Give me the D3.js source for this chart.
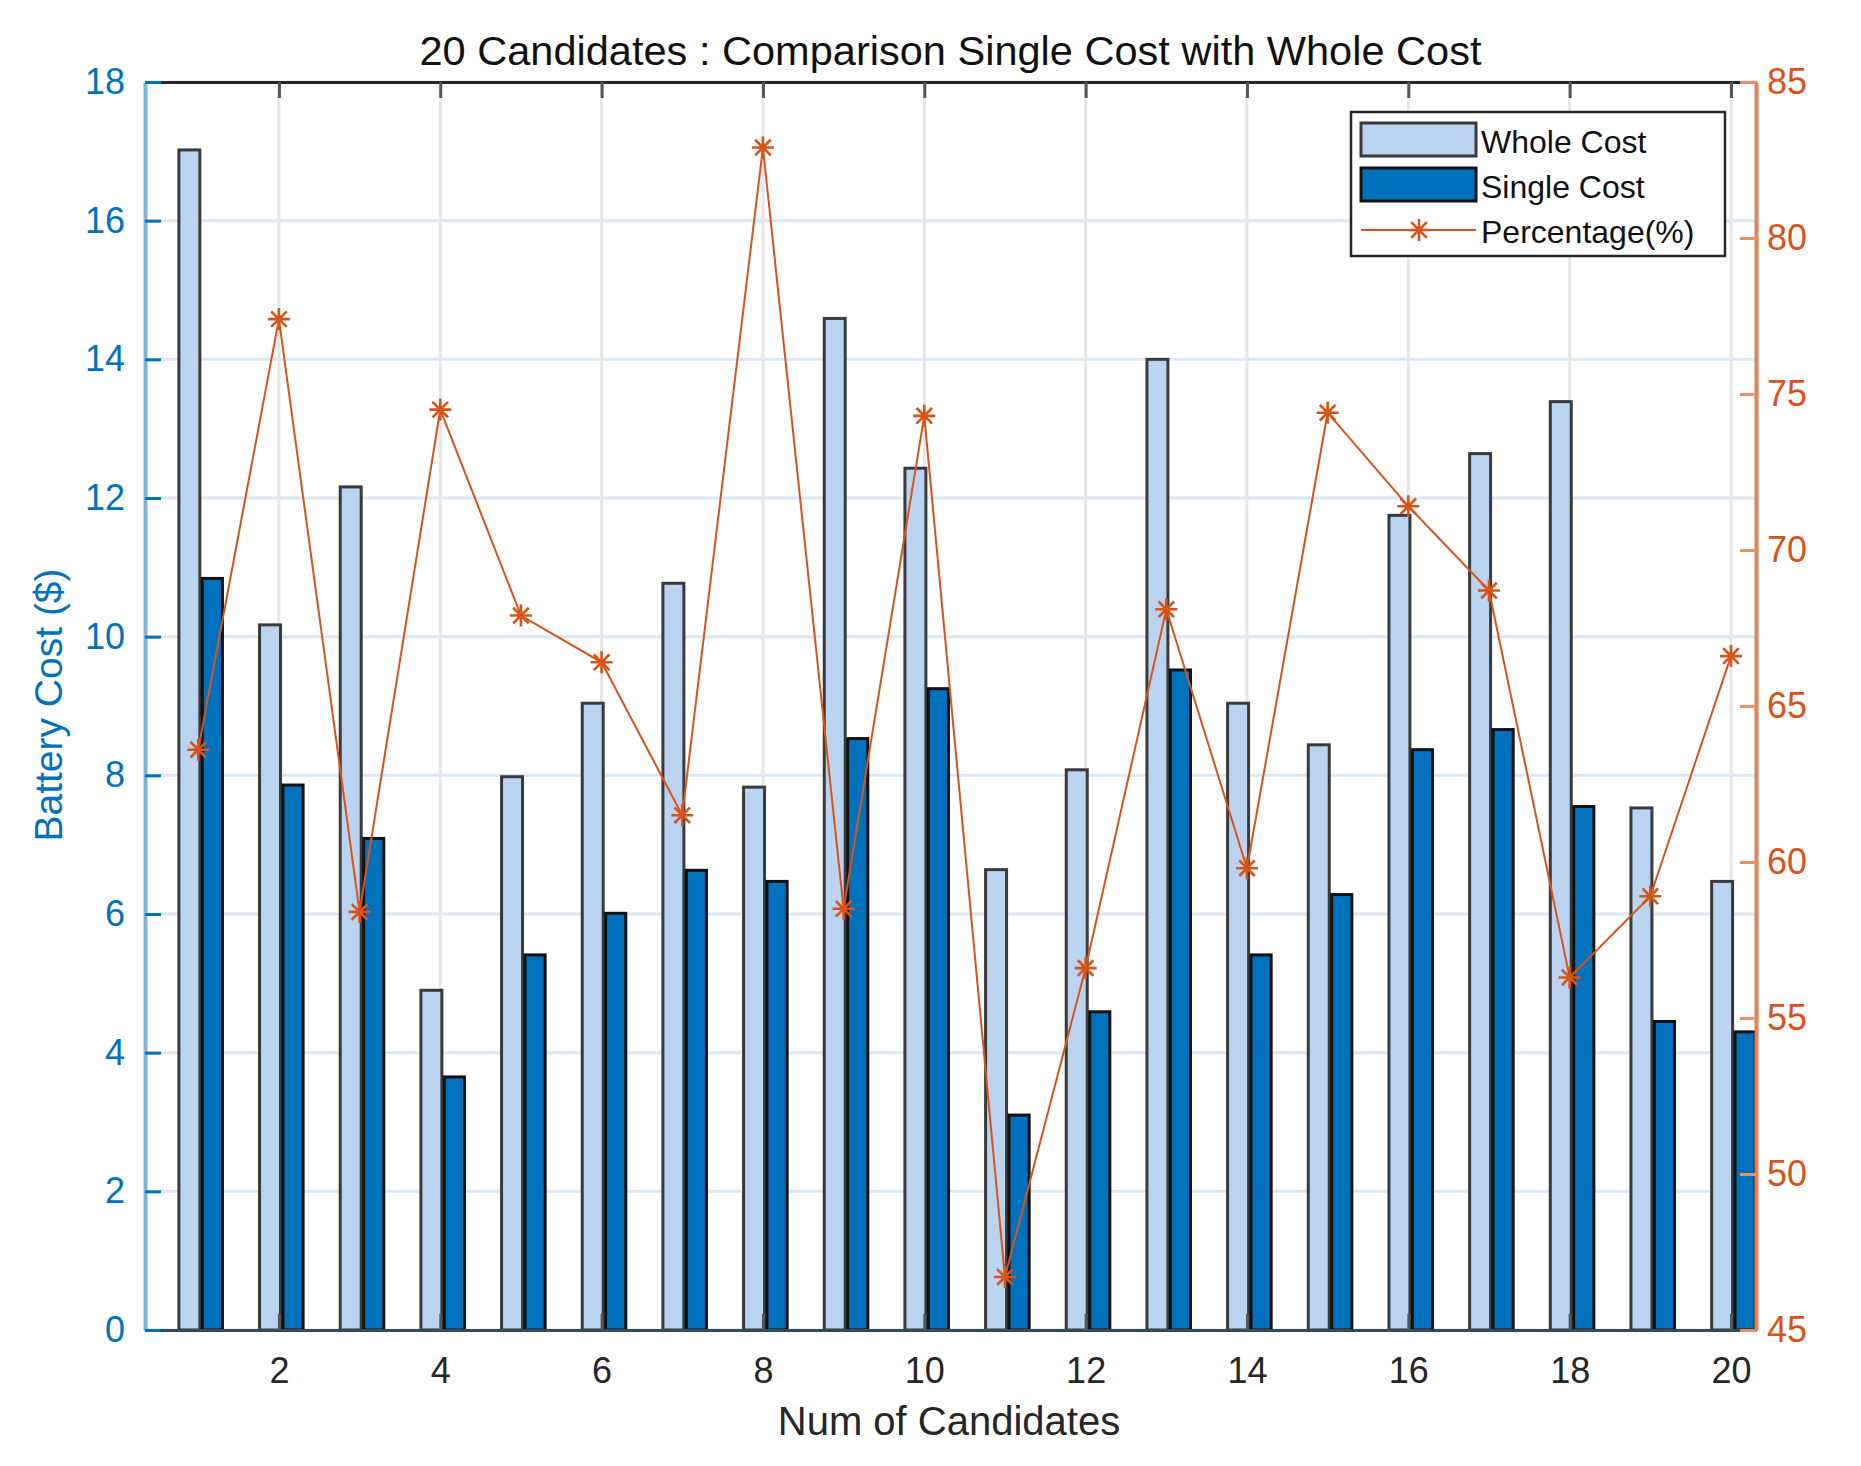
<!DOCTYPE html>
<html>
<head>
<meta charset="utf-8">
<script src="https://cdn.jsdelivr.net/npm/d3@7/dist/d3.min.js"></script>
<style>
  body { margin: 0; background: #fff; }
  text { font-family: "Liberation Sans", Arial, sans-serif; }
</style>
</head>
<body>
<div id="chart"></div>
<script>
// values
var candidates = [1, 2, 3, 4, 5, 6, 7, 8, 9, 10, 11, 12, 13, 14, 15, 16, 17, 18, 19, 20]
var wholeCost = [17.02, 10.17, 12.16, 4.90, 7.98, 9.04, 10.77, 7.83, 14.59, 12.43,
                 6.64, 8.08, 14.00, 9.04, 8.44, 11.75, 12.64, 13.39, 7.53, 6.47]
var singleCost = [10.84, 7.86, 7.09, 3.65, 5.41, 6.01, 6.63, 6.47, 8.53, 9.25,
                  3.10, 4.59, 9.52, 5.41, 6.28, 8.37, 8.66, 7.55, 4.45, 4.30]
var percentage = [63.6, 77.4, 58.4, 74.5, 67.9, 66.4, 61.5, 82.9, 58.5, 74.3,
                  46.7, 56.6, 68.1, 59.8, 74.4, 71.4, 68.7, 56.3, 58.9, 66.6]
var xTicks = [2, 4, 6, 8, 10, 12, 14, 16, 18, 20]
var leftTicks = [0, 2, 4, 6, 8, 10, 12, 14, 16, 18]
var rightTicks = [45, 50, 55, 60, 65, 70, 75, 80, 85]
var seriesNames = ["Whole Cost", "Single Cost", "Percentage(%)"]

var svgw = 1861
var svgh = 1466
var plotL = 145, plotR = 1756, plotT = 82, plotB = 1330

var blue = '#0072BD'
var lightBlue = '#B9D3F1'
var orange = '#D95319'

var svg = d3.select('#chart').append('svg')
    .attr('width', svgw)
    .attr('height', svgh)

var x = d3.scaleLinear().domain([0.34, 20.31]).range([plotL, plotR])
var y = d3.scaleLinear().domain([0, 18]).range([plotB, plotT])
var y2 = d3.scaleLinear().domain([45, 85]).range([plotB, plotT])

// grid
svg.append('g').selectAll('line')
    .data(leftTicks)
    .enter().append('line')
    .attr('x1', plotL).attr('x2', plotR)
    .attr('y1', function(d){ return y(d) })
    .attr('y2', function(d){ return y(d) })
    .attr('stroke', '#dbe8f4')
    .attr('stroke-width', 3)
svg.append('g').selectAll('line')
    .data(xTicks)
    .enter().append('line')
    .attr('x1', function(d){ return x(d) })
    .attr('x2', function(d){ return x(d) })
    .attr('y1', plotT).attr('y2', plotB)
    .attr('stroke', '#e6e6e6')
    .attr('stroke-width', 3)

// bars
var bars = svg.append('g')
bars.selectAll('.whole')
    .data(wholeCost)
    .enter().append('rect')
    .attr('class', 'whole')
    .attr('x', function(d, i){ return x(candidates[i] - 0.24) })
    .attr('width', function(d, i){ return x(candidates[i] + 0.02) - x(candidates[i] - 0.24) })
    .attr('y', function(d){ return y(d) })
    .attr('height', function(d){ return y(0) - y(d) })
    .attr('fill', lightBlue)
    .attr('stroke', '#3a3a3a')
    .attr('stroke-width', 3)
bars.selectAll('.single')
    .data(singleCost)
    .enter().append('rect')
    .attr('class', 'single')
    .attr('x', function(d, i){ return x(candidates[i] + 0.05) })
    .attr('width', function(d, i){ return x(candidates[i] + 0.30) - x(candidates[i] + 0.05) })
    .attr('y', function(d){ return y(d) })
    .attr('height', function(d){ return y(0) - y(d) })
    .attr('fill', blue)
    .attr('stroke', '#111')
    .attr('stroke-width', 3)

// bottom and top axes
var xb = svg.append('g')
    .attr('transform', 'translate(0,' + plotB + ')')
    .call(d3.axisBottom(x).tickValues(xTicks).tickSize(-16).tickSizeOuter(0).tickPadding(27))
var xt = svg.append('g')
    .attr('transform', 'translate(0,' + plotT + ')')
    .call(d3.axisTop(x).tickValues(xTicks).tickSize(-16).tickSizeOuter(0).tickFormat(''))
;[xb, xt].forEach(function(a){
  a.select('.domain').attr('stroke', '#262626').attr('stroke-width', 3)
  a.selectAll('.tick line').attr('stroke', '#555').attr('stroke-width', 3)
  a.selectAll('.tick text').attr('fill', '#262626').attr('font-size', 36)
    .attr('font-family', '"Liberation Sans", Arial, sans-serif')
})
xb.select('.domain').attr('stroke', '#34495a')

// percentage line
var star = 'M-11,0H11M0,-11V11M-7.8,-7.8L7.8,7.8M-7.8,7.8L7.8,-7.8'
svg.append('path')
    .datum(percentage)
    .attr('d', d3.line()
        .x(function(d, i){ return x(candidates[i]) })
        .y(function(d){ return y2(d) }))
    .attr('fill', 'none')
    .attr('stroke', orange)
    .attr('stroke-width', 2)
svg.append('g').selectAll('path')
    .data(percentage)
    .enter().append('path')
    .attr('transform', function(d, i){ return 'translate(' + x(candidates[i]) + ',' + y2(d) + ')' })
    .attr('d', star)
    .attr('fill', 'none')
    .attr('stroke', orange)
    .attr('stroke-width', 2.6)

// left axis
var yl = svg.append('g')
    .attr('transform', 'translate(' + plotL + ',0)')
    .call(d3.axisLeft(y).tickValues(leftTicks).tickSize(-16).tickSizeOuter(0).tickPadding(20))
yl.select('.domain').attr('stroke', '#7db4de').attr('stroke-width', 4)
yl.selectAll('.tick line').attr('stroke', blue).attr('stroke-width', 3)
yl.selectAll('.tick text').attr('fill', blue).attr('font-size', 36)
    .attr('font-family', '"Liberation Sans", Arial, sans-serif')

// right axis
var yr = svg.append('g')
    .attr('transform', 'translate(' + plotR + ',0)')
    .call(d3.axisRight(y2).tickValues(rightTicks).tickSize(-16).tickSizeOuter(0).tickPadding(11))
yr.select('.domain').attr('stroke', '#e58053').attr('stroke-width', 4)
yr.selectAll('.tick line').attr('stroke', '#e8906a').attr('stroke-width', 3)
yr.selectAll('.tick text').attr('fill', orange).attr('font-size', 36)
    .attr('font-family', '"Liberation Sans", Arial, sans-serif')

// titles
svg.append('text')
    .attr('x', (plotL + plotR) / 2).attr('y', 65)
    .attr('text-anchor', 'middle')
    .attr('font-size', 41)
    .attr('fill', '#111')
    .attr('textLength', 1062).attr('lengthAdjust', 'spacingAndGlyphs')
    .text('20 Candidates : Comparison Single Cost with Whole Cost')
svg.append('text')
    .attr('x', 949).attr('y', 1435)
    .attr('text-anchor', 'middle')
    .attr('font-size', 40)
    .attr('fill', '#262626')
    .text('Num of Candidates')
svg.append('text')
    .attr('transform', 'translate(62,705) rotate(-90)')
    .attr('text-anchor', 'middle')
    .attr('font-size', 39)
    .attr('fill', blue)
    .text('Battery Cost ($)')

// legend
var lg = svg.append('g')
lg.append('rect')
    .attr('x', 1351).attr('y', 112).attr('width', 374).attr('height', 144)
    .attr('fill', '#fff').attr('stroke', '#262626').attr('stroke-width', 2.5)
lg.append('rect')
    .attr('x', 1361).attr('y', 123).attr('width', 115).attr('height', 33)
    .attr('fill', lightBlue).attr('stroke', '#3a3a3a').attr('stroke-width', 3)
lg.append('rect')
    .attr('x', 1361).attr('y', 168).attr('width', 115).attr('height', 33)
    .attr('fill', blue).attr('stroke', '#111').attr('stroke-width', 3)
lg.append('line')
    .attr('x1', 1361).attr('x2', 1476).attr('y1', 230).attr('y2', 230)
    .attr('stroke', orange).attr('stroke-width', 2)
lg.append('path')
    .attr('transform', 'translate(1419,230)')
    .attr('d', star)
    .attr('fill', 'none').attr('stroke', orange).attr('stroke-width', 2.6)
lg.selectAll('.lt')
    .data(seriesNames)
    .enter().append('text')
    .attr('class', 'lt')
    .attr('x', 1481)
    .attr('y', function(d, i){ return 153 + i * 45 })
    .attr('font-size', 32)
    .attr('fill', '#111')
    .text(function(d){ return d })
</script>
</body>
</html>
